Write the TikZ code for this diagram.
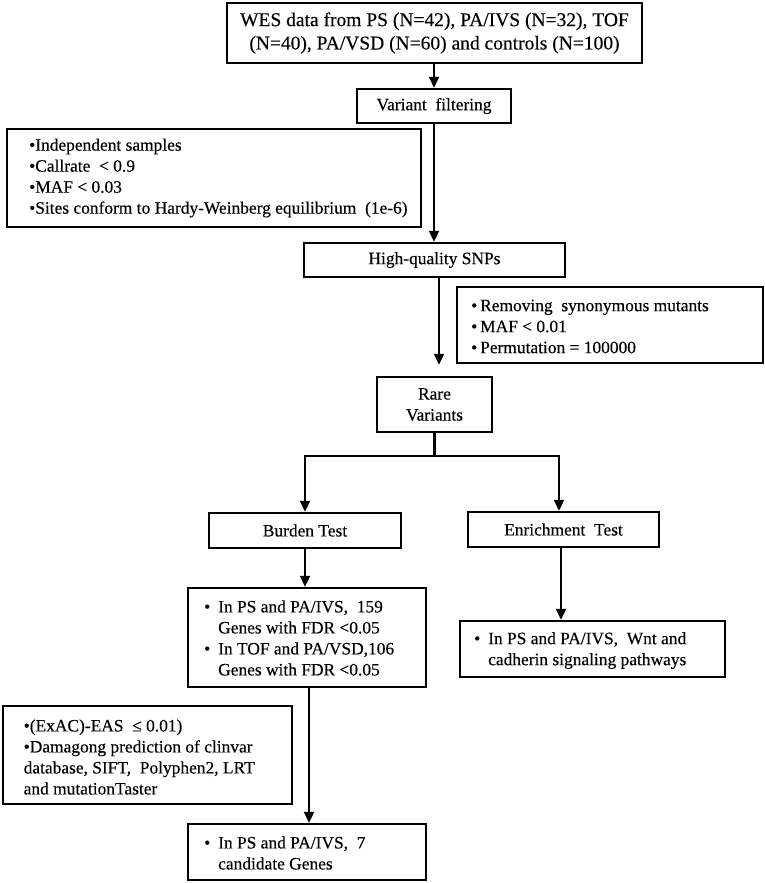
\documentclass[tikz,border=0pt]{standalone}
\usepackage{fontspec}
\setmainfont[FakeBold=0.3]{Liberation Serif}
\usetikzlibrary{arrows.meta,calc}
\begin{document}
\begin{tikzpicture}[x=1pt,y=1pt,
  box/.style={draw, line width=2.5pt, inner sep=0pt},
  arr/.style={line width=2.3pt, -{Triangle[length=11pt,width=10pt]}},
  txt/.style={inner sep=0pt, align=left, font=\fontsize{17.4}{21}\selectfont},
  ctxt/.style={align=center, font=\fontsize{17.4}{21}\selectfont}]
\useasboundingbox (0,0) rectangle (765,-883);

% boxes
\node[box, minimum width=415, minimum height=60, align=center,
      font=\fontsize{19.5}{23.4}\selectfont] (top) at (434.5,-33)
  {WES data from PS (N=42), PA/IVS (N=32), TOF\\(N=40), PA/VSD (N=60) and controls (N=100)};
\node[box, ctxt, minimum width=154, minimum height=34] (vf) at (434,-106) {Variant\ \ filtering};
\node[box, minimum width=414, minimum height=98] (crit1) at (214,-178) {};
\node[box, ctxt, minimum width=261, minimum height=34] (hq) at (434.5,-260) {High-quality SNPs};
\node[box, minimum width=306, minimum height=76] (crit2) at (610,-325) {};
\node[box, ctxt, minimum width=115, minimum height=55] (rare) at (434.5,-404.5) {Rare\\Variants};
\node[box, ctxt, minimum width=192, minimum height=35] (burden) at (305,-530.5) {Burden Test};
\node[box, ctxt, minimum width=191, minimum height=35] (enrich) at (563.5,-529.5) {Enrichment\ \ Test};
\node[box, minimum width=238, minimum height=99] (resL) at (307,-637.5) {};
\node[box, minimum width=265, minimum height=56] (resR) at (592.5,-649) {};
\node[box, minimum width=289, minimum height=98] (crit3) at (147.5,-755) {};
\node[box, minimum width=238, minimum height=56] (final) at (307,-852) {};

% texts inside boxes
\node[txt, anchor=west] (crit1t) at (29,-178)
  {•Independent samples\\•Callrate\ \ < 0.9\\•MAF < 0.03\\•Sites conform to Hardy-Weinberg equilibrium\ \ (1e-6)};
\node[txt, anchor=west] (crit2t) at (471,-326.5)
  {•\,Removing\ \ synonymous mutants\\•\,MAF < 0.01\\•\,Permutation = 100000};
\node[txt, anchor=west] (resLt) at (204,-638)
  {\makebox[14pt][l]{•}In PS and PA/IVS,\ \ 159\\\hspace*{14pt}Genes with FDR <0.05\\
   \makebox[14pt][l]{•}In TOF and PA/VSD,106\\\hspace*{14pt}Genes with FDR <0.05};
\node[txt, anchor=west] (resRt) at (474,-650.5)
  {\makebox[14pt][l]{•}In PS and PA/IVS,\ \ Wnt and\\\hspace*{14pt}cadherin signaling pathways};
\node[txt, anchor=west] (crit3t) at (23.5,-757)
  {•(ExAC)-EAS\ \ ≤ 0.01)\\•Damagong prediction of clinvar\\database, SIFT,\ \ Polyphen2, LRT\\and mutationTaster};
\node[txt, anchor=west] (finalt) at (204,-853)
  {\makebox[14pt][l]{•}In PS and PA/IVS,\ \ 7\\\hspace*{14pt}candidate Genes};

% connectors
\coordinate (bl) at (305,-456);
\coordinate (brr) at (559,-456);
\draw[arr] (vf.north |- top.south) -- (vf.north);
\draw[arr] (vf.south) -- (vf.south |- hq.north);
\draw[arr, shorten >=11pt] ([xshift=4.5pt]hq.south) -- ([xshift=4.5pt]rare.north);
\draw[arr] (rare.south) |- (bl) -- (burden.north);
\draw[arr] (rare.south |- bl) -- (brr) -- (brr |- enrich.north);
\draw[arr] (burden.south) -- (burden.south |- resL.north);
\draw[arr] ([xshift=-2.5pt]enrich.south) -- ([xshift=-2.5pt]enrich.south |- resR.north);
\draw[arr] ([xshift=2pt]resL.south) -- ([xshift=2pt]resL.south |- final.north);
\end{tikzpicture}
\end{document}
